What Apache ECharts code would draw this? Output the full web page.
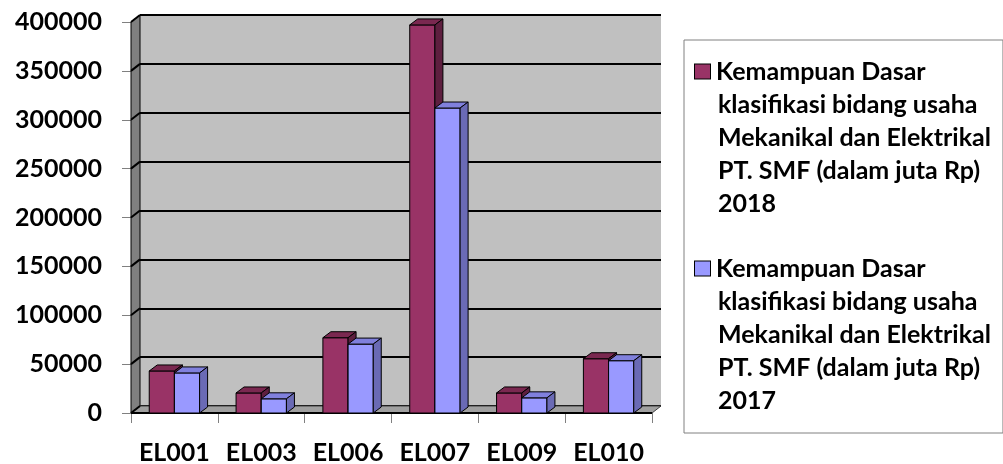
<!DOCTYPE html>
<html>
<head>
<meta charset="utf-8">
<script src="https://cdn.jsdelivr.net/npm/echarts@6/dist/echarts.min.js"></script>
<style>
  html, body { margin: 0; padding: 0; background: #fff; }
  #chart { width: 1003px; height: 464px; }
</style>
</head>
<body>
<div id="chart"></div>
<script>
const categories = ['EL001', 'EL003', 'EL006', 'EL007', 'EL009', 'EL010']
const values2018 = [43000, 20500, 77000, 397000, 20500, 55500]
const values2017 = [41000, 14500, 70500, 312000, 15500, 53500]
const yTicks = [0, 50000, 100000, 150000, 200000, 250000, 300000, 350000, 400000]

const legend2018 = ['Kemampuan Dasar', 'klasifikasi bidang usaha', 'Mekanikal dan Elektrikal', 'PT. SMF (dalam juta Rp)', '2018']
const legend2017 = ['Kemampuan Dasar', 'klasifikasi bidang usaha', 'Mekanikal dan Elektrikal', 'PT. SMF (dalam juta Rp)', '2017']
const name2018 = legend2018.join(' ')
const name2017 = legend2017.join(' ')

const FONT = 'Lato'
// wall depth and bar depth (3d look)
const WDX = 9, WDY = -7
const BDX = 8, BDY = -6

const chart = echarts.init(document.getElementById('chart'))

// left side wall, floor and slanted grid segments
const renderWalls = (params, api) => {
  const cs = params.coordSys
  const x0 = cs.x, y0 = cs.y, x1 = cs.x + cs.width, y1 = cs.y + cs.height
  const children = [
    {
      type: 'polygon',
      shape: { points: [[x0, y0], [x0 + WDX, y0 + WDY], [x0 + WDX, y1 + WDY], [x0, y1]] },
      style: { fill: '#808080', stroke: '#000', lineWidth: 1 }
    },
    {
      type: 'polygon',
      shape: { points: [[x0, y1], [x0 + WDX, y1 + WDY], [x1 + WDX, y1 + WDY], [x1, y1]] },
      style: { fill: '#a0a0a0', stroke: '#404040', lineWidth: 1 }
    }
  ]
  yTicks.forEach(t => {
    const y = api.coord([0, t])[1]
    children.push({
      type: 'line',
      shape: { x1: x0, y1: y, x2: x0 + WDX, y2: y + WDY },
      style: { stroke: '#000', lineWidth: 2 }
    })
  })
  children.push({
    type: 'line',
    shape: { x1: x0, y1: y1, x2: x1, y2: y1 },
    style: { stroke: '#000', lineWidth: 2 }
  })
  return { type: 'group', children }
}

const makeBarRenderer = (k, front, top, side) => (params, api) => {
  const idx = api.value(0)
  const pt = api.coord([idx, api.value(1)])
  const base = api.coord([idx, 0])
  const w = api.size([1, 0])[0] * 0.29
  const x = pt[0] + (k === 0 ? -w : 0)
  const yt = pt[1], yb = base[1]
  const line = { stroke: '#000', lineWidth: 1 }
  return {
    type: 'group',
    children: [
      { type: 'rect', shape: { x, y: yt, width: w, height: yb - yt }, style: { fill: front, ...line } },
      {
        type: 'polygon',
        shape: { points: [[x, yt], [x + BDX, yt + BDY], [x + w + BDX, yt + BDY], [x + w, yt]] },
        style: { fill: top, ...line }
      },
      {
        type: 'polygon',
        shape: { points: [[x + w, yt], [x + w + BDX, yt + BDY], [x + w + BDX, yb + BDY], [x + w, yb]] },
        style: { fill: side, ...line }
      }
    ]
  }
}

const legendText = (lines, key) =>
  lines.map((l, i) => (i === 0 ? '{' + key + '| }{g| }' : '{s| }') + '{t|' + l + '}').join('\n')

const option = {
  animation: false,
  grid: [
    { left: 131, right: 351, top: 22, bottom: 51, outerBoundsMode: 'none' },
    {
      left: 140, right: 342, top: 15, bottom: 58, outerBoundsMode: 'none',
      show: true, backgroundColor: '#c0c0c0', borderWidth: 0, z: 0
    }
  ],
  xAxis: [
    {
      type: 'category',
      gridIndex: 0,
      data: categories,
      axisLine: { show: false },
      axisTick: { show: true, length: 10, lineStyle: { color: '#808080' } },
      axisLabel: { interval: 0, margin: 27, fontFamily: FONT, fontWeight: 'bold', fontSize: 25, color: '#000' }
    },
    {
      type: 'category',
      gridIndex: 1,
      data: categories,
      show: false
    }
  ],
  yAxis: [
    {
      type: 'value',
      gridIndex: 0,
      min: 0,
      max: 400000,
      interval: 50000,
      axisLine: { show: true, lineStyle: { color: '#000', width: 1 } },
      axisTick: { show: true, length: 9, lineStyle: { color: '#808080' } },
      splitLine: { show: false },
      axisLabel: {
        margin: 29,
        formatter: v => String(v),
        fontFamily: FONT,
        fontWeight: 'bold',
        fontSize: 25,
        color: '#000'
      }
    },
    {
      type: 'value',
      gridIndex: 1,
      min: 0,
      max: 400000,
      interval: 50000,
      axisLine: { show: false },
      axisTick: { show: false },
      axisLabel: { show: false },
      splitLine: { show: true, lineStyle: { color: '#000', width: 2 } }
    }
  ],
  legend: {
    orient: 'vertical',
    left: 684,
    top: 40,
    padding: [15, 12, 16, 6],
    itemGap: 32,
    icon: 'none',
    itemWidth: 0,
    borderColor: '#808080',
    borderWidth: 1,
    data: [name2018, name2017],
    formatter: name => (name === name2018 ? legendText(legend2018, 'm0') : legendText(legend2017, 'm1')),
    textStyle: {
      fontFamily: FONT,
      fontWeight: 'bold',
      fontSize: 25,
      color: '#000',
      lineHeight: 33,
      rich: {
        t: { fontFamily: FONT, fontWeight: 'bold', fontSize: 25, lineHeight: 33, color: '#000' },
        m0: { width: 15, height: 14, backgroundColor: '#993366', borderColor: '#000', borderWidth: 1, verticalAlign: 'middle' },
        m1: { width: 15, height: 14, backgroundColor: '#9999ff', borderColor: '#000', borderWidth: 1, verticalAlign: 'middle' },
        g: { width: 6 },
        s: { width: 23 }
      }
    }
  },
  series: [
    {
      type: 'custom',
      name: 'walls',
      xAxisIndex: 0,
      yAxisIndex: 0,
      data: [[0, 0]],
      renderItem: renderWalls,
      silent: true,
      z: 1
    },
    {
      type: 'custom',
      name: name2018,
      xAxisIndex: 0,
      yAxisIndex: 0,
      itemStyle: { color: '#993366' },
      data: values2018.map((v, i) => [i, v]),
      renderItem: makeBarRenderer(0, '#993366', '#7a2850', '#5e1f3f'),
      z: 3
    },
    {
      type: 'custom',
      name: name2017,
      xAxisIndex: 0,
      yAxisIndex: 0,
      itemStyle: { color: '#9999ff' },
      data: values2017.map((v, i) => [i, v]),
      renderItem: makeBarRenderer(1, '#9999ff', '#8080dd', '#6a6ab5'),
      z: 4
    }
  ]
}

chart.setOption(option)
</script>
</body>
</html>
